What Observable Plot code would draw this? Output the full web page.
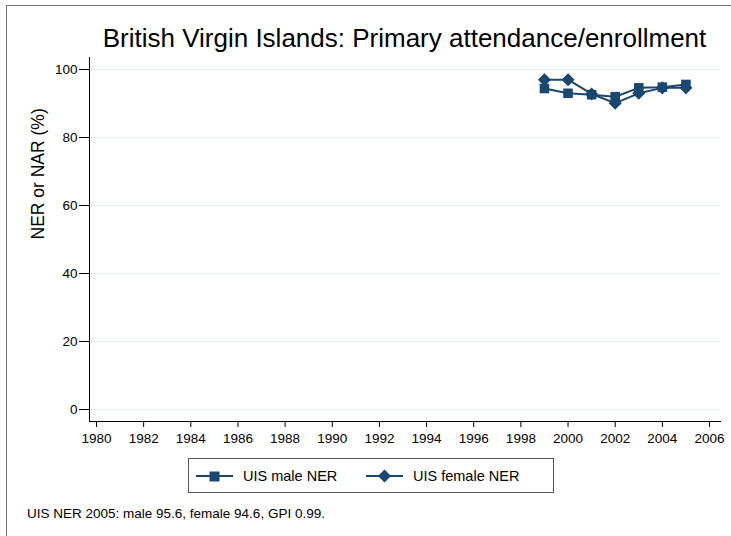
<!DOCTYPE html>
<html>
<head>
<meta charset="utf-8">
<script src="https://cdn.jsdelivr.net/npm/d3@7"></script>
<script src="https://cdn.jsdelivr.net/npm/@observablehq/plot@0.6"></script>
<style>
  body { margin: 0; background: #fff; font-family: "Liberation Sans", Arial, sans-serif; }
  #wrap { position: relative; width: 731px; height: 536px; overflow: hidden; background: #fff; }
  #border { position: absolute; left: 6px; top: 5px; width: 800px; height: 600px; border: 1px solid #777; box-sizing: border-box; }
  #chart { position: absolute; left: 0; top: 0; }
  #title { position: absolute; left: 0; width: 809px; top: 23px; text-align: center; font-size: 26px; color: #000; white-space: nowrap; }
  #legend { position: absolute; left: 188px; top: 458px; width: 366px; height: 35px; border: 1px solid #555; box-sizing: border-box; font-size: 14.5px; }
  #legend .item { position: absolute; top: 0; height: 33px; display: flex; align-items: center; }
  #legend svg { display: block; }
  #caption { position: absolute; left: 27px; top: 506px; font-size: 13.5px; color: #000; }
</style>
</head>
<body>
<div id="wrap">
  <div id="border"></div>
  <div id="chart"></div>
  <div id="title"></div>
  <div id="legend"></div>
  <div id="caption"></div>
</div>
<script>
const titleText = "British Virgin Islands: Primary attendance/enrollment";
const yLabel = "NER or NAR (%)";
const captionText = "UIS NER 2005: male 95.6, female 94.6, GPI 0.99.";
const years = [1999, 2000, 2001, 2002, 2003, 2004, 2005];
const maleNER = [94.4, 93.0, 92.6, 92.0, 94.6, 94.8, 95.6];
const femaleNER = [97.0, 97.0, 92.8, 90.1, 93.0, 94.6, 94.6];
const seriesNames = ["UIS male NER", "UIS female NER"];
const xTicks = d3.range(1980, 2007, 2);
const yTicks = [0, 20, 40, 60, 80, 100];
const color = "#1a476f";

const male = years.map((y, i) => ({year: y, value: maleNER[i]}));
const female = years.map((y, i) => ({year: y, value: femaleNER[i]}));

const plot = Plot.plot({
  width: 731,
  height: 460,
  marginLeft: 89,
  marginRight: 11,
  marginTop: 57,
  marginBottom: 39,
  style: {fontFamily: "Liberation Sans, Arial, sans-serif", fontSize: "13.5px", color: "#000", background: "transparent"},
  x: {domain: [1980, 2006], insetLeft: 7, insetRight: 11},
  y: {domain: [0, 100], insetTop: 12, insetBottom: 12},
  marks: [
    Plot.gridY(yTicks, {stroke: "#e6eef1", strokeOpacity: 1, strokeWidth: 1}),
    Plot.frame({anchor: "left", stroke: "#000"}),
    Plot.frame({anchor: "bottom", stroke: "#000"}),
    Plot.axisY(yTicks, {tickSize: 10, tickPadding: 2, fontSize: 13.5, label: null, stroke: "#000"}),
    Plot.axisX(xTicks, {tickSize: 6, tickPadding: 6, fontSize: 13.5, label: null, tickFormat: d => String(d), stroke: "#000"}),
    Plot.text([yLabel], {frameAnchor: "left", dx: -51, rotate: -90, fontSize: 17.5, text: d => d}),
    Plot.line(male, {x: "year", y: "value", stroke: color, strokeWidth: 2}),
    Plot.dot(male, {x: "year", y: "value", symbol: "square", r: 5.4, fill: color, stroke: "none"}),
    Plot.line(female, {x: "year", y: "value", stroke: color, strokeWidth: 2}),
    Plot.dot(female, {x: "year", y: "value", symbol: "diamond2", r: 5.9, fill: color, stroke: "none"})
  ]
});
document.getElementById("chart").appendChild(plot);
document.getElementById("title").textContent = titleText;
document.getElementById("caption").textContent = captionText;

// legend
const legend = document.getElementById("legend");
const items = [
  {name: seriesNames[0], left: 7, shape: "square"},
  {name: seriesNames[1], left: 177, shape: "diamond"}
];
items.forEach(it => {
  const div = document.createElement("div");
  div.className = "item";
  div.style.left = it.left + "px";
  const ns = "http://www.w3.org/2000/svg";
  const svg = document.createElementNS(ns, "svg");
  svg.setAttribute("width", 37); svg.setAttribute("height", 14);
  const ln = document.createElementNS(ns, "line");
  ln.setAttribute("x1", 0); ln.setAttribute("x2", 37); ln.setAttribute("y1", 7); ln.setAttribute("y2", 7);
  ln.setAttribute("stroke", color); ln.setAttribute("stroke-width", 2);
  svg.appendChild(ln);
  const p = document.createElementNS(ns, "path");
  p.setAttribute("fill", color);
  p.setAttribute("d", it.shape === "square" ? "M13.5,2.5h10v10h-10z" : "M18.5,0.5l6.5,6.5l-6.5,6.5l-6.5,-6.5z");
  svg.appendChild(p);
  div.appendChild(svg);
  const t = document.createElement("span");
  t.textContent = it.name;
  t.style.marginLeft = "10px";
  div.appendChild(t);
  legend.appendChild(div);
});
</script>
</body>
</html>
